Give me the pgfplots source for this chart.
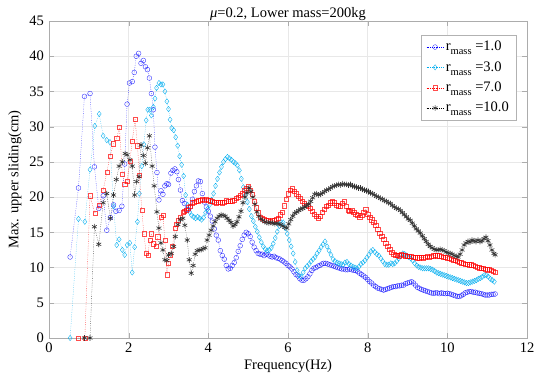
\documentclass[border=0pt]{standalone}
\usepackage{fontspec}
\setmainfont{Liberation Serif}
\usepackage{pgfplots}
\pgfplotsset{compat=1.18}
\newcommand{\rmass}[1]{r\raisebox{-0.6ex}{\fontsize{10.5}{10.5}\selectfont mass} =#1}
\begin{document}
\fontsize{14.5}{17}\selectfont
\begin{tikzpicture}
\begin{axis}[
  scale only axis, width=478pt, height=317pt,
  xmin=0, xmax=12, ymin=0, ymax=45,
  xtick={0,2,...,12}, ytick={0,5,...,45},
  /pgf/number format/assume math mode=true,
  ticklabel style={font=\fontsize{14.5}{17}\selectfont},
  label style={font=\fontsize{14.5}{17}\selectfont},
  title style={font=\fontsize{14.5}{17}\selectfont, yshift=-11pt},
  title={\textit{μ}=0.2, Lower mass=200kg},
  xlabel={Frequency(Hz)}, ylabel={Max. upper sliding(cm)},
  xlabel style={yshift=3pt}, ylabel style={yshift=-2pt},
  grid=major, grid style={gray!18, line width=0.4pt},
  tick align=inside, major tick length=5pt,
  axis line style={gray!65}, tick style={gray!65},
  clip=false,
  legend style={at={(0.977,0.956)}, anchor=north east, draw=gray!60, fill=white,
    font=\fontsize{14.5}{17}\selectfont, row sep=4.5pt, inner xsep=5pt, inner ysep=4pt},
  legend cell align=left,
  every axis plot/.append style={line width=0.35pt, dash pattern=on 0.5pt off 1.3pt},
]
\coordinate (sw) at (rel axis cs:0,0);
\coordinate (ne) at (rel axis cs:1,1);
% r=1.0
\addplot[color=blue, mark=o, mark size=2.4pt, mark options={solid, line width=0.35pt, draw opacity=0.85}] table {
0.53 11.5
0.74 21.3
0.89 34.3
1.03 34.7
1.14 24.3
1.25 18.4
1.36 20.2
1.45 15.3
1.54 17.1
1.62 18.9
1.68 18.0
1.76 18.1
1.83 18.7
1.90 24.7
1.96 33.2
2.02 36.2
2.09 36.4
2.14 37.7
2.19 40.0
2.25 40.4
2.31 39.0
2.37 39.4
2.42 38.5
2.47 38.1
2.52 36.9
2.57 34.7
2.62 32.4
2.66 27.1
2.71 23.5
2.76 19.6
2.81 20.9
2.86 20.4
2.91 21.6
2.96 21.9
3.00 21.8
3.06 23.4
3.11 23.8
3.16 24.0
3.21 23.6
3.25 22.5
3.30 21.0
3.35 19.5
3.40 19.1
3.45 18.2
3.50 18.2
3.55 18.6
3.60 19.7
3.65 20.8
3.70 21.6
3.75 22.3
3.80 22.2
3.85 20.5
3.90 19.3
3.95 18.6
4.00 18.0
4.05 17.3
4.10 16.6
4.15 15.5
4.20 14.6
4.25 13.9
4.30 12.4
4.35 11.7
4.40 11.2
4.45 10.3
4.50 9.8
4.55 9.9
4.60 10.3
4.65 10.7
4.70 11.4
4.75 12.3
4.80 13.1
4.85 14.0
4.90 14.6
4.95 15.0
5.00 14.8
5.05 14.4
5.10 13.6
5.15 12.9
5.20 12.4
5.25 12.0
5.30 11.9
5.35 11.9
5.40 11.7
5.45 11.9
5.50 11.8
5.55 11.6
5.60 11.5
5.65 11.6
5.70 11.4
5.75 11.3
5.80 11.2
5.85 11.0
5.90 10.8
5.95 10.6
6.00 10.3
6.05 10.1
6.10 9.8
6.15 9.4
6.20 9.0
6.25 8.8
6.30 8.4
6.35 8.2
6.40 8.2
6.45 8.4
6.50 8.7
6.55 9.1
6.60 9.6
6.65 9.9
6.70 10.0
6.75 10.2
6.80 10.3
6.85 10.5
6.90 10.6
6.95 10.6
7.00 10.5
7.05 10.4
7.10 10.3
7.15 10.2
7.20 10.1
7.25 10.0
7.30 9.9
7.35 9.8
7.40 9.8
7.45 9.7
7.50 9.7
7.55 9.8
7.60 9.7
7.65 9.6
7.70 9.6
7.75 9.4
7.80 9.2
7.85 9.0
7.90 8.8
7.95 8.6
8.00 8.3
8.05 8.0
8.10 7.8
8.15 7.5
8.20 7.3
8.25 7.1
8.30 7.0
8.35 6.9
8.40 6.8
8.45 6.9
8.50 7.0
8.55 7.1
8.60 7.2
8.65 7.3
8.70 7.3
8.75 7.4
8.80 7.4
8.85 7.5
8.90 7.5
8.95 7.7
9.00 7.8
9.05 7.9
9.10 8.0
9.15 7.8
9.20 7.5
9.25 7.2
9.30 7.05
9.35 6.9
9.40 6.8
9.45 6.7
9.50 6.6
9.55 6.5
9.60 6.4
9.65 6.35
9.70 6.4
9.75 6.4
9.80 6.3
9.85 6.4
9.90 6.35
9.95 6.3
10.00 6.35
10.05 6.3
10.10 6.2
10.15 6.1
10.20 6.0
10.25 5.9
10.30 5.9
10.35 6.0
10.40 6.2
10.45 6.4
10.50 6.5
10.55 6.6
10.60 6.6
10.65 6.5
10.70 6.5
10.75 6.4
10.80 6.35
10.85 6.3
10.90 6.2
10.95 6.1
11.00 6.1
11.05 6.1
11.10 6.2
11.15 6.2
11.20 6.25
};
\addlegendentry{\rmass{1.0}}
% r=3.0
\addplot[color=cyan, mark=diamond, mark size=2.7pt, mark options={solid, line width=0.35pt}] table {
0.53 0
0.74 16.9
0.90 16.5
1.03 23.9
1.15 30.1
1.26 31.8
1.36 28.7
1.45 28.1
1.53 27.8
1.62 18.7
1.70 13.2
1.76 14.0
1.84 12.5
1.90 11.8
1.96 13.2
2.03 13.5
2.09 9.3
2.15 12.9
2.22 16.5
2.27 20.5
2.33 24.4
2.38 27.5
2.44 30.9
2.48 32.4
2.53 32.4
2.57 31.6
2.62 32.8
2.66 34.0
2.70 35.5
2.76 36.2
2.81 36.0
2.86 36.0
2.91 35.0
2.96 33.6
3.00 32.5
3.04 31.0
3.08 29.8
3.13 29.5
3.18 28.5
3.23 27.3
3.28 25.8
3.33 24.6
3.38 23.0
3.43 20.3
3.48 18.9
3.53 17.9
3.58 17.4
3.63 17.2
3.68 17.0
3.73 17.2
3.78 17.0
3.83 16.8
3.88 17.1
3.93 17.8
3.98 18.3
4.03 18.9
4.08 19.6
4.13 20.5
4.18 21.6
4.23 22.6
4.28 23.5
4.33 24.3
4.38 25.0
4.43 25.4
4.48 25.7
4.53 25.5
4.58 25.3
4.63 25.0
4.68 24.8
4.73 24.5
4.78 23.8
4.83 22.6
4.88 21.4
4.93 20.3
4.98 19.3
5.03 18.3
5.08 17.3
5.13 16.6
5.18 15.8
5.23 15.1
5.28 14.3
5.33 13.6
5.38 13.0
5.43 12.6
5.48 12.4
5.53 12.5
5.58 12.8
5.63 13.4
5.68 14.2
5.73 15.1
5.78 15.9
5.83 16.4
5.88 16.4
5.93 15.6
5.98 14.8
6.03 13.9
6.08 13.0
6.13 12.0
6.18 10.8
6.23 9.6
6.28 8.9
6.33 8.7
6.38 9.3
6.43 9.9
6.48 10.2
6.53 10.5
6.58 10.9
6.63 11.2
6.68 11.5
6.73 12.0
6.78 12.4
6.83 12.9
6.88 13.3
6.93 13.7
6.98 13.0
7.03 12.4
7.08 11.8
7.13 11.2
7.18 10.9
7.23 10.7
7.28 10.6
7.33 10.5
7.38 10.4
7.43 10.7
7.48 10.8
7.53 10.5
7.58 10.3
7.63 10.1
7.68 10.0
7.73 9.9
7.78 10.1
7.83 10.5
7.88 10.7
7.93 11.0
7.98 11.4
8.03 11.8
8.08 12.3
8.13 12.5
8.18 12.2
8.23 11.9
8.28 11.7
8.33 11.3
8.38 10.9
8.43 10.5
8.48 10.4
8.53 10.4
8.58 10.6
8.63 10.5
8.68 10.6
8.73 10.9
8.78 11.3
8.83 11.7
8.88 12.0
8.93 11.9
8.98 11.7
9.03 11.5
9.08 11.3
9.13 11.0
9.18 10.6
9.23 10.3
9.28 10.1
9.33 10.0
9.38 9.9
9.43 9.9
9.48 9.9
9.53 9.9
9.58 9.8
9.63 9.7
9.68 9.5
9.73 9.3
9.78 9.2
9.83 9.1
9.88 9.0
9.93 8.9
9.98 8.8
10.03 8.7
10.08 8.6
10.13 8.5
10.18 8.4
10.23 8.3
10.28 8.2
10.33 8.1
10.38 8.0
10.43 7.9
10.48 7.8
10.53 7.8
10.58 7.9
10.63 8.0
10.68 8.1
10.73 8.2
10.78 8.4
10.83 8.5
10.88 8.7
10.93 8.9
10.98 8.9
11.03 8.7
11.08 8.4
11.13 8.2
11.18 8.0
};
\addlegendentry{\rmass{3.0}}
% r=7.0
\addplot[color=red, mark=square, mark size=2.1pt, mark options={solid, line width=0.3pt, draw opacity=0.7}] table {
0.74 0
0.90 0
1.03 20.2
1.15 17.7
1.26 18.9
1.36 21.0
1.45 23.5
1.53 25.8
1.62 27.6
1.70 28.4
1.77 29.9
1.84 23.3
1.90 21.8
1.96 22.3
2.03 25.1
2.09 28.0
2.16 31.1
2.22 27.3
2.27 23.1
2.33 18.2
2.38 14.8
2.44 12.0
2.48 11.8
2.53 13.9
2.57 14.8
2.62 13.4
2.69 13.0
2.73 14.4
2.81 17.2
2.86 17.4
2.91 13.9
2.96 9.0
3.00 10.6
3.05 11.8
3.10 13.0
3.16 15.6
3.20 16.2
3.25 16.7
3.30 17.2
3.36 17.9
3.40 18.0
3.45 18.2
3.50 18.5
3.55 18.7
3.60 19.2
3.65 19.3
3.70 19.4
3.75 19.5
3.80 19.6
3.85 19.7
3.90 19.6
3.95 19.7
4.00 19.6
4.05 19.5
4.10 19.4
4.15 19.3
4.20 19.2
4.25 19.3
4.30 19.3
4.35 19.2
4.40 19.3
4.45 19.5
4.50 19.4
4.55 19.4
4.60 19.5
4.65 19.6
4.70 19.8
4.75 20.0
4.80 20.3
4.85 20.5
4.90 21.0
4.95 21.3
5.00 21.5
5.05 21.0
5.10 20.4
5.15 19.4
5.20 18.5
5.25 17.8
5.30 17.2
5.35 17.0
5.40 16.8
5.45 16.7
5.50 16.7
5.55 16.6
5.60 16.7
5.65 16.7
5.70 16.9
5.75 17.0
5.80 17.5
5.85 17.9
5.90 18.8
5.95 19.7
6.00 20.5
6.05 21.0
6.10 21.2
6.15 20.9
6.20 20.5
6.25 20.1
6.30 19.8
6.35 19.4
6.40 19.1
6.45 18.9
6.50 18.7
6.55 18.4
6.60 18.0
6.65 17.6
6.70 17.3
6.75 17.0
6.80 17.3
6.85 17.9
6.90 18.3
6.95 18.7
7.00 18.9
7.05 19.2
7.10 19.4
7.15 19.2
7.20 18.9
7.25 18.8
7.30 18.7
7.35 19.1
7.40 19.4
7.45 18.7
7.50 18.2
7.55 18.0
7.60 18.1
7.65 17.9
7.70 17.6
7.75 17.4
7.80 17.2
7.85 17.4
7.90 17.9
7.95 18.3
8.00 17.6
8.05 17.1
8.10 16.8
8.15 16.4
8.20 16.0
8.25 15.5
8.30 14.9
8.35 14.5
8.40 14.0
8.45 13.5
8.50 13.0
8.55 12.6
8.60 12.2
8.65 11.9
8.70 11.8
8.75 11.8
8.80 11.7
8.85 11.9
8.90 11.8
8.95 11.7
9.00 11.6
9.05 11.6
9.10 11.6
9.15 11.5
9.20 11.5
9.25 11.4
9.30 11.4
9.35 11.5
9.40 11.4
9.45 11.5
9.50 11.6
9.55 11.5
9.60 11.6
9.65 11.7
9.70 11.8
9.75 11.7
9.80 11.7
9.85 11.6
9.90 11.5
9.95 11.5
10.00 11.4
10.05 11.3
10.10 11.2
10.15 11.1
10.20 11.0
10.25 10.9
10.30 10.8
10.35 10.7
10.40 10.6
10.45 10.5
10.50 10.5
10.55 10.4
10.60 10.4
10.65 10.3
10.70 10.2
10.75 10.1
10.80 10.0
10.85 9.9
10.90 9.9
10.95 9.8
11.00 9.7
11.05 9.8
11.10 9.6
11.15 9.5
11.20 9.4
};
\addlegendentry{\rmass{7.0}}
% r=10.0
\addplot[color=black, mark=asterisk, mark size=2.8pt, mark options={solid, line width=0.6pt, black!80}] table {
0.89 0
1.03 0
1.14 15.8
1.25 13.3
1.36 19.2
1.45 20.5
1.54 17.0
1.62 20.3
1.69 22.5
1.76 24.4
1.84 25.0
1.91 26.2
1.96 26.0
2.03 25.3
2.09 24.4
2.15 20.3
2.20 22.2
2.26 22.9
2.31 27.4
2.37 25.9
2.42 24.8
2.47 27.0
2.52 28.7
2.59 24.4
2.64 21.6
2.71 17.9
2.76 15.6
2.81 13.5
2.86 12.5
2.91 11.1
2.96 11.0
3.00 11.8
3.07 12.0
3.13 13.0
3.17 14.4
3.24 16.1
3.30 16.8
3.36 17.0
3.41 16.0
3.47 13.9
3.52 11.1
3.57 9.2
3.62 10.3
3.67 11.9
3.72 12.4
3.77 12.5
3.82 12.5
3.87 12.7
3.92 12.8
3.97 13.9
4.02 14.6
4.07 15.3
4.12 15.9
4.17 16.5
4.22 17.0
4.27 17.3
4.32 17.5
4.37 17.4
4.42 17.3
4.47 17.0
4.52 16.7
4.57 16.4
4.62 15.9
4.67 16.1
4.72 16.5
4.77 17.2
4.82 18.0
4.87 19.2
4.92 20.0
4.97 20.6
5.02 21.3
5.07 20.8
5.12 20.0
5.17 19.0
5.22 17.9
5.27 17.3
5.32 16.9
5.37 16.7
5.42 16.5
5.47 16.4
5.52 16.3
5.57 16.4
5.62 16.3
5.67 16.2
5.72 16.3
5.77 16.2
5.82 16.1
5.87 15.9
5.92 15.7
5.97 15.6
6.02 16.2
6.07 16.8
6.12 17.3
6.17 17.7
6.22 17.9
6.27 18.1
6.32 18.3
6.37 18.4
6.42 18.6
6.47 18.8
6.52 19.0
6.57 19.4
6.62 19.9
6.67 20.4
6.72 20.5
6.77 20.3
6.82 20.4
6.87 20.6
6.92 20.8
6.97 21.0
7.02 21.1
7.07 21.3
7.12 21.5
7.17 21.6
7.22 21.7
7.27 21.8
7.32 21.7
7.37 21.9
7.42 21.8
7.47 21.8
7.52 21.7
7.57 21.8
7.62 21.6
7.67 21.5
7.72 21.4
7.77 21.3
7.82 21.3
7.87 21.1
7.92 21.0
7.97 20.9
8.02 20.8
8.07 20.6
8.12 20.5
8.17 20.3
8.22 20.1
8.27 20.0
8.32 19.8
8.37 19.7
8.42 19.5
8.47 19.4
8.52 19.2
8.57 19.1
8.62 18.8
8.67 18.6
8.72 18.4
8.77 18.3
8.82 18.1
8.87 17.8
8.92 17.5
8.97 17.2
9.02 16.9
9.07 16.7
9.12 16.3
9.17 15.9
9.22 15.5
9.27 15.2
9.32 14.9
9.37 14.5
9.42 14.1
9.47 13.7
9.52 13.3
9.57 13.0
9.62 12.8
9.67 12.6
9.72 12.5
9.77 12.5
9.82 12.6
9.87 12.5
9.92 12.4
9.97 12.2
10.02 12.1
10.07 12.0
10.12 11.9
10.17 11.7
10.22 11.6
10.27 11.5
10.32 11.9
10.37 12.5
10.42 13.2
10.47 13.5
10.52 13.7
10.57 13.6
10.62 13.9
10.67 13.8
10.72 13.7
10.77 13.9
10.82 13.7
10.87 13.8
10.92 14.1
10.97 14.3
11.02 13.8
11.07 13.2
11.12 12.5
11.17 12.0
11.20 11.8
};
\addlegendentry{\rmass{10.0}}
\end{axis}
\pgfresetboundingbox
\path ([shift={(-49pt,-42pt)}]sw) rectangle ([shift={(9pt,21pt)}]ne);
\end{tikzpicture}
\end{document}
